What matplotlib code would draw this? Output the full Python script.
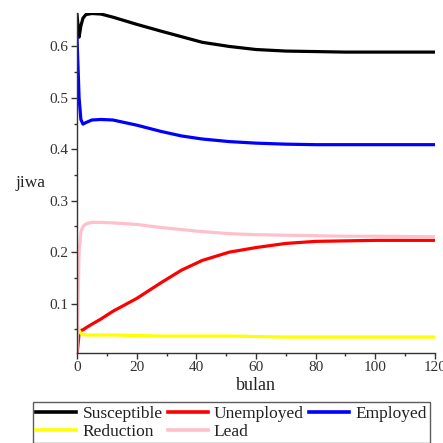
import matplotlib
matplotlib.use("Agg")
import matplotlib.pyplot as plt
from matplotlib.lines import Line2D

# time (bulan)
t = [0, 0.7, 1.3, 2, 3, 5, 8, 12, 20, 28, 35, 42, 51, 60, 70, 80, 90, 100, 120]
susceptible = [0.662, 0.618, 0.640, 0.655, 0.662, 0.664, 0.663, 0.657, 0.643, 0.630,
               0.619, 0.608, 0.600, 0.594, 0.591, 0.590, 0.589, 0.589, 0.589]
unemployed = [0.0, 0.042, 0.048, 0.049, 0.053, 0.060, 0.070, 0.085, 0.110, 0.140,
              0.165, 0.184, 0.200, 0.209, 0.217, 0.221, 0.222, 0.223, 0.223]
employed = [0.617, 0.500, 0.458, 0.449, 0.452, 0.457, 0.458, 0.457, 0.447, 0.435,
            0.426, 0.420, 0.415, 0.412, 0.410, 0.409, 0.409, 0.409, 0.409]
reduction = [0.060, 0.048, 0.042, 0.040, 0.039, 0.039, 0.039, 0.039, 0.038, 0.037,
             0.037, 0.037, 0.037, 0.036, 0.035, 0.035, 0.035, 0.035, 0.035]
lead = [0.0, 0.200, 0.240, 0.250, 0.255, 0.258, 0.258, 0.257, 0.254, 0.248,
        0.244, 0.240, 0.236, 0.234, 0.233, 0.232, 0.231, 0.231, 0.230]

names = ["Susceptible", "Unemployed", "Employed", "Reduction", "Lead"]
series = [susceptible, unemployed, employed, reduction, lead]
colors = ["black", "red", "blue", "yellow", "pink"]

plt.rcParams['font.family'] = ['Liberation Serif', 'DejaVu Serif']

fig = plt.figure(figsize=(4.43, 4.43), dpi=100)
ax = fig.add_axes([77/443, 1-353/443, (435-77)/443, (353-13)/443])

handles = {}
for name, ys, c in zip(names, series, colors):
    ax.plot(t, ys, color=c, lw=2.3, solid_joinstyle='round')
    handles[name] = Line2D([], [], color=c, lw=2.6)

ax.set_xlim(0, 120)
ax.set_ylim(0.004, 0.665)
ax.set_xticks([0, 20, 40, 60, 80, 100, 120])
ax.set_xticks([10, 30, 50, 70, 90, 110], minor=True)
ax.set_yticks([0.1, 0.2, 0.3, 0.4, 0.5, 0.6])
ax.set_yticks([0.05, 0.15, 0.25, 0.35, 0.45, 0.55], minor=True)
ax.set_xticklabels(["0", "20", "40", "60", "80", "100", "120"])
ax.set_yticklabels(["0.1", "0.2", "0.3", "0.4", "0.5", "0.6"])
for s in ["top", "right"]:
    ax.spines[s].set_visible(False)
for s in ["left", "bottom"]:
    ax.spines[s].set_color("#333333")
    ax.spines[s].set_linewidth(1.0)
ax.tick_params(which='major', direction='out', length=4, width=1, color="#333333",
               labelsize=11, labelcolor="#333333", pad=2)
ax.tick_params(which='minor', direction='out', length=2.5, width=1, color="#333333")

ax.set_xlabel("bulan", fontsize=13, color="#222222", labelpad=2)
fig.text(15/443, 1-183/443, "jiwa", fontsize=12.5, color="#222222", va='center', ha='left')

order = ["Susceptible", "Reduction", "Unemployed", "Lead", "Employed"]
leg = fig.legend([handles[n] for n in order], order, ncol=3,
                 loc='upper left', bbox_to_anchor=(33/443, 1-402/443),
                 fontsize=12.5, frameon=True, fancybox=False, shadow=False,
                 handlelength=2.3, handletextpad=0.35, columnspacing=0.3,
                 borderpad=0.2, labelspacing=0.12, borderaxespad=0)
leg.get_frame().set_edgecolor("#333333")
leg.get_frame().set_linewidth(1.0)
for txt in leg.get_texts():
    txt.set_color("#222222")

fig.savefig("out.png", dpi=100)
